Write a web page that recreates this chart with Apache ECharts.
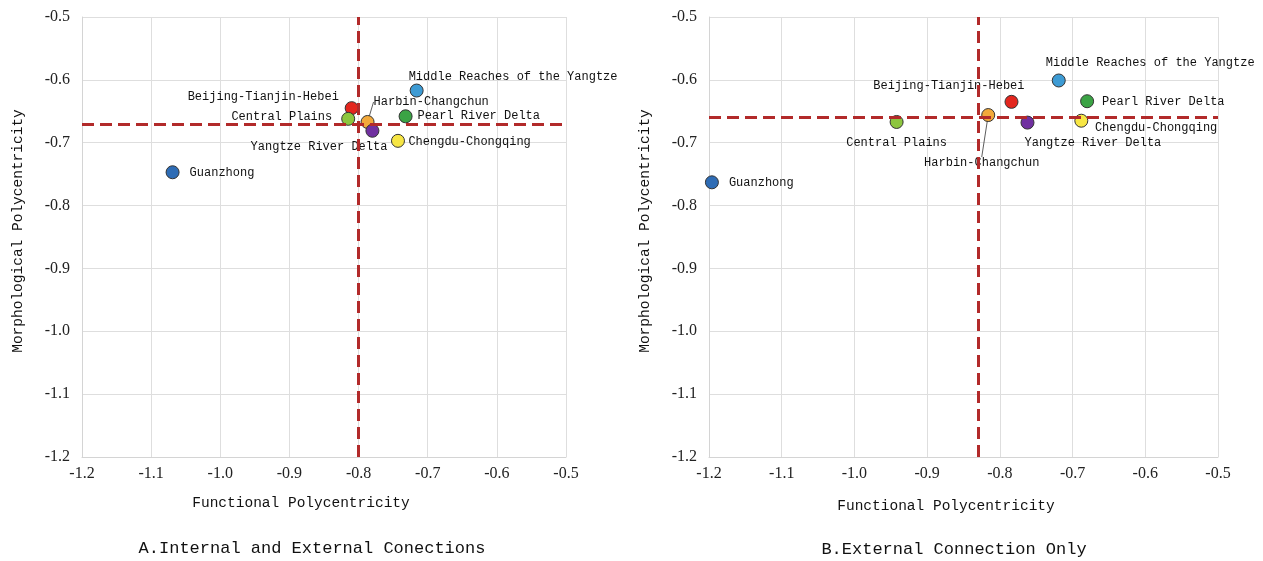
<!DOCTYPE html>
<html>
<head>
<meta charset="utf-8">
<script src="https://cdn.jsdelivr.net/npm/echarts@6/dist/echarts.min.js"></script>
<style>
html,body{margin:0;padding:0;background:#fff;}
#chart{width:1263px;height:561px;}
</style>
</head>
<body>
<div id="chart"></div>
<script>
// ---- data ----
const regions = ['Middle Reaches of the Yangtze','Beijing-Tianjin-Hebei','Central Plains','Harbin-Changchun','Yangtze River Delta','Pearl River Delta','Chengdu-Chongqing','Guanzhong'];
const colors = ['#3d9bd4','#e3261e','#8dc63f','#f2a93b','#7030a0','#3ba345','#f7e644','#2e6cb5'];
const funcA = [-0.716, -0.810, -0.815, -0.787, -0.780, -0.732, -0.743, -1.069];
const morphA = [-0.617, -0.645, -0.662, -0.667, -0.681, -0.658, -0.697, -0.747];
const funcB = [-0.719, -0.784, -0.942, -0.816, -0.762, -0.680, -0.688, -1.196];
const morphB = [-0.601, -0.635, -0.667, -0.656, -0.668, -0.634, -0.665, -0.763];
const refA = [-0.797, -0.674]; // [functional mean, morphological mean]
const refB = [-0.827, -0.661];
const axisTicks = [-1.2, -1.1, -1.0, -0.9, -0.8, -0.7, -0.6, -0.5];
const xTitle = 'Functional Polycentricity';
const yTitle = 'Morphological Polycentricity';
const panelTitles = ['A.Internal and External Conections', 'B.External Connection Only'];

// ---- label placement (style, not data) ----
const labA = [['left',-8,-13.4],['right',-12.8,-11],['right',-16,-2.3],['left',6,-20],['right',15,16.5],['left',12,0],['left',10.4,0.7],['left',17,1]];
const labB = [['left',-13,-17.6],['right',13,-16.5],['center',0,20.5],['center',-6.5,48],['left',-3,20],['left',15,0.6],['left',13.6,7],['left',17,0.5]];
const leader = [false,false,false,true,false,false,false,false];

const MONO = '"Liberation Mono", "DejaVu Sans Mono", monospace';
const SERIF = '"Liberation Serif", "DejaVu Serif", serif';

function makeData(xs, ys, lab){
  return regions.map((name,i)=>({
    name: name,
    value: [xs[i], ys[i]],
    itemStyle: {color: colors[i]},
    label: {align: lab[i][0], offset: [lab[i][1], lab[i][2]]},
    labelLine: {show: leader[i], lineStyle:{color:'#333', width:0.8}}
  }));
}
function xAxis(idx){
  return {type:'value', gridIndex: idx, min: axisTicks[0], max: axisTicks[axisTicks.length-1], interval: 0.1,
    axisLine:{show:true, lineStyle:{color:'#d4d4d4'}}, axisTick:{show:false},
    axisLabel:{formatter: v=>v.toFixed(1), fontFamily: SERIF, fontSize:16, color:'#222', margin:9},
    splitLine:{show:true, lineStyle:{color:'#dedede', width:1}}};
}
function yAxis(idx){
  return {type:'value', gridIndex: idx, min: axisTicks[0], max: axisTicks[axisTicks.length-1], interval: 0.1,
    axisLine:{show:true, lineStyle:{color:'#d4d4d4'}}, axisTick:{show:false},
    axisLabel:{formatter: v=>v.toFixed(1), fontFamily: SERIF, fontSize:16, color:'#222', margin:12},
    splitLine:{show:true, lineStyle:{color:'#dedede', width:1}}};
}
function series(idx, xs, ys, lab, ref){
  return {type:'scatter', xAxisIndex: idx, yAxisIndex: idx, symbolSize: 13,
    itemStyle:{borderColor:'#333', borderWidth:1, opacity:1},
    label:{show:true, position:'inside', formatter:'{b}', verticalAlign:'middle', fontFamily: MONO, fontSize:12, color:'#111'},
    labelLine:{show:false},
    data: makeData(xs, ys, lab),
    markLine:{silent:true, symbol:'none', label:{show:false},
      lineStyle:{color:'#b22a2a', width:3, type:[12,6]},
      data:[{xAxis: ref[0]}, {yAxis: ref[1]}]},
    z: 3
  };
}
const chart = echarts.init(document.getElementById('chart'), null, {renderer:'canvas'});
chart.setOption({
  animation:false,
  backgroundColor:'#fff',
  grid:[{left:82, right:697, top:17, bottom:104},{left:709, right:45, top:17, bottom:104}],
  xAxis:[xAxis(0), xAxis(1)],
  yAxis:[yAxis(0), yAxis(1)],
  series:[series(0, funcA, morphA, labA, refA), series(1, funcB, morphB, labB, refB)],
  graphic:[
    {type:'text', x:301, y:503, style:{text:xTitle, font:'14.5px '+MONO, fill:'#111', textAlign:'center', textVerticalAlign:'middle'}},
    {type:'text', x:946, y:506, style:{text:xTitle, font:'14.5px '+MONO, fill:'#111', textAlign:'center', textVerticalAlign:'middle'}},
    {type:'text', x:18, y:231, rotation:Math.PI/2, style:{text:yTitle, font:'14.5px '+MONO, fill:'#111', textAlign:'center', textVerticalAlign:'middle'}},
    {type:'text', x:645, y:231, rotation:Math.PI/2, style:{text:yTitle, font:'14.5px '+MONO, fill:'#111', textAlign:'center', textVerticalAlign:'middle'}},
    {type:'text', x:312, y:548, style:{text:panelTitles[0], font:'17px '+MONO, fill:'#111', textAlign:'center', textVerticalAlign:'middle'}},
    {type:'text', x:954, y:549, style:{text:panelTitles[1], font:'17px '+MONO, fill:'#111', textAlign:'center', textVerticalAlign:'middle'}}
  ]
});
</script>
</body>
</html>
